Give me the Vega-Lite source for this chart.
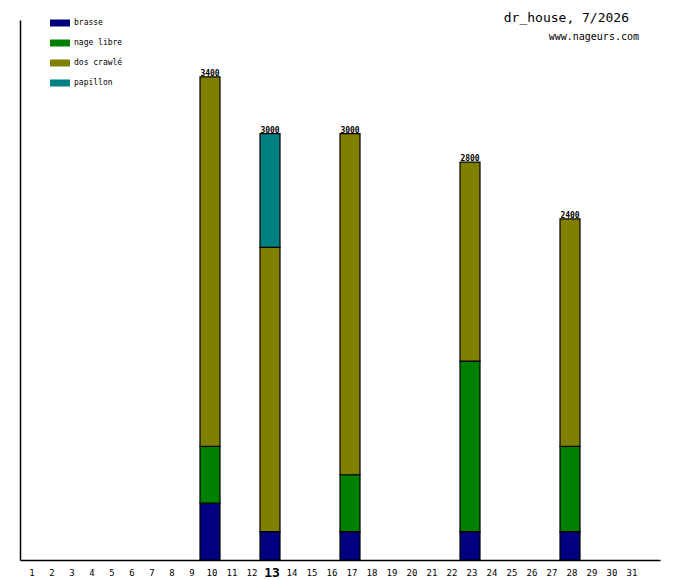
{
  "$schema": "https://vega.github.io/schema/vega-lite/v6.json",
  "width": 640,
  "height": 540,
  "autosize": {"type": "none"},
  "padding": {"left": 20, "top": 20, "right": 20, "bottom": 20},
  "background": "white",
  "title": {
    "text": "dr_house, 7/2026\u2800",
    "subtitle": "www.nageurs.com",
    "anchor": "end",
    "frame": "group",
    "offset": -29,
    "dx": -21,
    "font": "DejaVu Sans Mono",
    "fontSize": 13,
    "fontWeight": "normal",
    "color": "black",
    "subtitleFont": "DejaVu Sans Mono",
    "subtitleFontSize": 10,
    "subtitleColor": "black",
    "subtitlePadding": 7
  },
  "data": {
    "values": [
      {"day": 10, "stroke": "brasse", "meters": 400},
      {"day": 10, "stroke": "nage libre", "meters": 400},
      {"day": 10, "stroke": "dos crawlé", "meters": 2600},
      {"day": 13, "stroke": "brasse", "meters": 200},
      {"day": 13, "stroke": "dos crawlé", "meters": 2000},
      {"day": 13, "stroke": "papillon", "meters": 800},
      {"day": 17, "stroke": "brasse", "meters": 200},
      {"day": 17, "stroke": "nage libre", "meters": 400},
      {"day": 17, "stroke": "dos crawlé", "meters": 2400},
      {"day": 23, "stroke": "brasse", "meters": 200},
      {"day": 23, "stroke": "nage libre", "meters": 1200},
      {"day": 23, "stroke": "dos crawlé", "meters": 1400},
      {"day": 28, "stroke": "brasse", "meters": 200},
      {"day": 28, "stroke": "nage libre", "meters": 600},
      {"day": 28, "stroke": "dos crawlé", "meters": 1600}
    ]
  },
  "encoding": {
    "x": {
      "field": "day",
      "type": "ordinal",
      "scale": {
        "domain": [1,2,3,4,5,6,7,8,9,10,11,12,13,14,15,16,17,18,19,20,21,22,23,24,25,26,27,28,29,30,31,32],
        "paddingInner": 0,
        "paddingOuter": 0
      },
      "axis": {
        "title": null,
        "values": [1,2,3,4,5,6,7,8,9,10,11,12,13,14,15,16,17,18,19,20,21,22,23,24,25,26,27,28,29,30,31],
        "labelAngle": 0,
        "ticks": false,
        "domainColor": "black",
        "domainWidth": 1.5,
        "labelPadding": 12,
        "labelFont": "DejaVu Sans Mono",
        "labelFontSize": {"condition": {"test": "datum.value == 13", "value": 13}, "value": 9},
        "labelFontWeight": {"condition": {"test": "datum.value == 13", "value": "bold"}, "value": "normal"},
        "labelColor": "black",
        "labelBaseline": "middle",
        "labelOffset": 2
      }
    }
  },
  "layer": [
    {
      "transform": [
        {"calculate": "indexof(['brasse', 'nage libre', 'dos crawlé', 'papillon'], datum.stroke)", "as": "stackRank"}
      ],
      "mark": {"type": "bar", "stroke": "black", "strokeWidth": 1.2},
      "encoding": {
        "y": {
          "field": "meters",
          "type": "quantitative",
          "aggregate": "sum",
          "stack": "zero",
          "scale": {"domain": [0, 3800], "nice": false},
          "axis": {
            "title": null,
            "labels": false,
            "ticks": false,
            "grid": false,
            "domainColor": "black",
            "domainWidth": 1.5
          }
        },
        "order": {"field": "stackRank", "type": "quantitative", "sort": "ascending"},
        "color": {
          "field": "stroke",
          "type": "nominal",
          "scale": {
            "domain": ["brasse", "nage libre", "dos crawlé", "papillon"],
            "range": ["#000080", "#008000", "#808000", "#008080"]
          },
          "legend": {
            "title": null,
            "orient": "none",
            "legendX": 30,
            "legendY": -7,
            "padding": 0,
            "rowPadding": 6,
            "symbolType": "M-1,-0.35H1V0.35H-1Z",
            "symbolSize": 400,
            "symbolStrokeWidth": 0,
            "symbolOpacity": 1,
            "labelOffset": 4,
            "labelFont": "DejaVu Sans Mono",
            "labelFontSize": 8,
            "labelColor": "black"
          }
        }
      }
    },
    {
      "mark": {
        "type": "text",
        "baseline": "bottom",
        "dy": 1,
        "font": "DejaVu Sans Mono",
        "fontSize": 8,
        "fontWeight": "bold",
        "color": "black"
      },
      "encoding": {
        "y": {"field": "meters", "type": "quantitative", "aggregate": "sum"},
        "text": {"field": "meters", "type": "quantitative", "aggregate": "sum"}
      }
    }
  ],
  "config": {
    "view": {"stroke": null},
    "axis": {"grid": false}
  }
}
